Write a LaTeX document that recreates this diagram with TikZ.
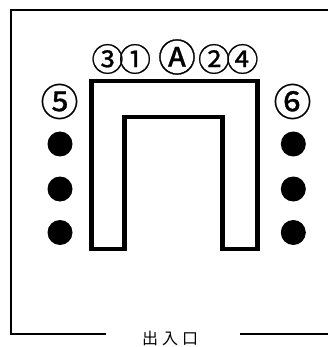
\documentclass[tikz,border=0pt]{standalone}
\usepackage{fontspec}
\newfontfamily\jpfont{Noto Sans CJK JP}
\newfontfamily\jpbold[FakeBold=0.7]{Noto Sans CJK JP}
\begin{document}
\begin{tikzpicture}[x=1pt,y=-1pt,
  frameline/.style={line width=2pt},
  uline/.style={line width=4.5pt},
  dotmark/.style={circle,fill=black,minimum size=25pt,inner sep=0pt},
  seatlabel/.style={font=\jpbold\fontsize{32}{32}\selectfont,inner sep=0pt},
  biglabel/.style={font=\jpbold\fontsize{38}{38}\selectfont,inner sep=0pt}]
\useasboundingbox (0,0) rectangle (328,347);
% outer frame
\coordinate (fa) at (328,10);
\coordinate (fb) at (11,10);
\coordinate (fc) at (11,334);
\coordinate (fd) at (106,334);
\coordinate (fe) at (240,334);
\coordinate (ff) at (328,334);
\draw[frameline] (fa) -- (fb) -- (fc) -- (fd);
\draw[frameline] (fe) -- (ff);
% U-shaped table
\coordinate (u1) at (127,249);
\coordinate (u2) at (91.7,249);
\coordinate (u3) at (91.7,81);
\coordinate (u4) at (257.5,81);
\coordinate (u5) at (257.5,249);
\coordinate (u6) at (220,249);
\coordinate (u7) at (222.7,249);
\coordinate (u8) at (222.7,117);
\coordinate (u9) at (124.3,117);
\coordinate (u10) at (124.3,249);
\draw[uline] (u1) -- (u2) -- (u3) -- (u4) -- (u5) -- (u6);
\draw[uline] (u7) -- (u8) -- (u9) -- (u10);
% seats
\node[dotmark] (l1) at (60,144) {};
\node[dotmark] (l2) at (60,189) {};
\node[dotmark] (l3) at (60,232.5) {};
\node[dotmark] (r1) at (293.3,144) {};
\node[dotmark] (r2) at (293.3,189) {};
\node[dotmark] (r3) at (293.3,232.5) {};
% labels
\node[seatlabel] (s3) at (107.5,59) {③};
\node[seatlabel] (s1) at (135,59) {①};
\node[biglabel] (sA) at (177,57) {Ⓐ};
\node[seatlabel] (s2) at (214,59) {②};
\node[seatlabel] (s4) at (242.5,59) {④};
\node[biglabel] (s5) at (59.5,101.5) {⑤};
\node[biglabel] (s6) at (292.5,101.5) {⑥};
\node[font=\jpfont\fontsize{16}{16}\selectfont,inner sep=0pt] (exit) at (170,338) {出\hspace{4pt}入\hspace{4pt}口};
\end{tikzpicture}
\end{document}
